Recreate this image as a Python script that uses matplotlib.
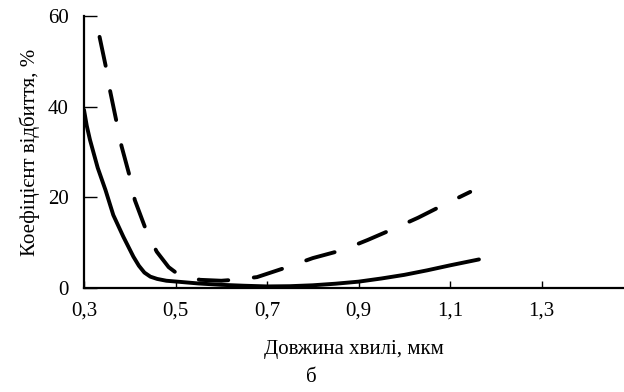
import matplotlib
matplotlib.use("Agg")
import matplotlib.pyplot as plt
from matplotlib.ticker import FixedLocator, FuncFormatter

plt.rcParams['font.family'] = ['Liberation Serif', 'DejaVu Serif']

# Reflection coefficient vs wavelength
solid_x = [0.300, 0.306, 0.313, 0.330, 0.347, 0.364, 0.386, 0.408, 0.420, 0.432, 0.445, 0.460,
           0.480, 0.504, 0.550, 0.600, 0.650, 0.700, 0.750, 0.800, 0.850, 0.900, 0.950, 1.000,
           1.050, 1.100, 1.163]
solid_y = [39.3, 35.8, 32.7, 26.5, 21.6, 16.1, 11.3, 6.9, 4.9, 3.4, 2.5, 2.0,
           1.6, 1.4, 1.0, 0.7, 0.5, 0.35, 0.4, 0.6, 0.95, 1.4, 2.1, 2.9,
           3.9, 5.0, 6.3]

dash_x = [0.334, 0.349, 0.357, 0.372, 0.382, 0.401, 0.411, 0.437, 0.459, 0.485, 0.510, 0.554,
          0.600, 0.626, 0.678, 0.744, 0.800, 0.866, 0.920, 0.975, 1.030, 1.085, 1.144]
dash_y = [55.4, 48.2, 43.5, 36.2, 31.3, 24.2, 19.4, 12.4, 8.0, 4.6, 2.7, 1.8,
          1.6, 1.8, 2.4, 4.6, 6.6, 8.4, 10.6, 13.0, 15.5, 18.3, 21.2]

x_ticks = [0.3, 0.5, 0.7, 0.9, 1.1, 1.3]
y_ticks = [0, 20, 40, 60]

fig = plt.figure(figsize=(6.24, 3.92), dpi=100)
ax = fig.add_axes([84 / 624, 104 / 392, 1 - 84 / 624, 272 / 392])

ax.plot(solid_x, solid_y, color='black', lw=2.8, solid_capstyle='round',
        solid_joinstyle='round')
ax.plot(dash_x, dash_y, color='black', lw=2.8, dashes=(7.6, 6.6),
        dash_capstyle='round', dash_joinstyle='round')

ax.set_xlim(0.3, 1.48)
ax.set_ylim(0, 60)
ax.spines['top'].set_visible(False)
ax.spines['right'].set_visible(False)
for s in ('left', 'bottom'):
    ax.spines[s].set_linewidth(1.6)

ax.xaxis.set_major_locator(FixedLocator(x_ticks))
ax.yaxis.set_major_locator(FixedLocator(y_ticks))
ax.xaxis.set_major_formatter(FuncFormatter(lambda v, p: f"{v:.1f}".replace('.', ',')))
ax.yaxis.set_major_formatter(FuncFormatter(lambda v, p: f"{v:.0f}"))
ax.tick_params(axis='x', direction='in', length=5, width=1.0, labelsize=15, pad=10)
ax.tick_params(axis='y', direction='in', length=9, width=1.0, labelsize=15, pad=11)

ax.set_xlabel('Довжина хвилі, мкм', fontsize=15, labelpad=14)
ax.set_ylabel('Коефіцієнт відбиття, %', fontsize=15, labelpad=6)

fig.text(311 / 624, 1 - 377 / 392, 'б', fontsize=15, ha='center', va='center')

fig.savefig('out.png', dpi=100)
